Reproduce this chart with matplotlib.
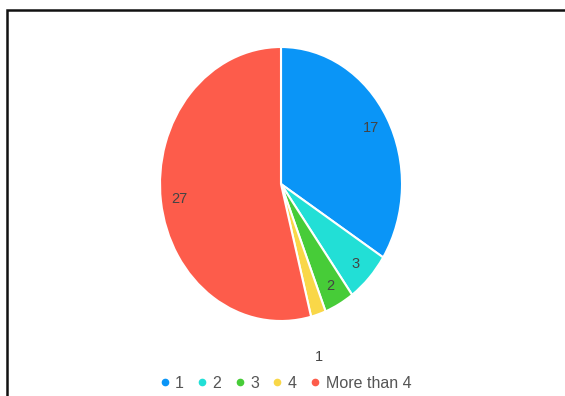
import matplotlib
matplotlib.use("Agg")
import matplotlib.pyplot as plt
import numpy as np
from matplotlib.lines import Line2D
from matplotlib.patches import Rectangle

categories = ["1", "2", "3", "4", "More than 4"]
counts = [17, 3, 2, 1, 27]
colors = ["#0a95f7", "#22dfd6", "#47cc38", "#f9d748", "#fd5c4b"]

plt.rcParams["font.family"] = ["Liberation Sans", "DejaVu Sans"]

W, H = 565, 396
fig = plt.figure(figsize=(W / 100, H / 100), dpi=100)
fig.patch.set_facecolor("white")

# outer frame (open on right and bottom)
fig.patches.append(Rectangle((7 / W, -0.2), 1.2, 1 - 10 / H + 0.2,
                             transform=fig.transFigure, fill=False,
                             edgecolor="#111111", linewidth=1.8))

cx, cy, rx, ry = 281, 184, 121, 137
ax = fig.add_axes([(cx - rx) / W, (H - cy - ry) / H, 2 * rx / W, 2 * ry / H])

wedges, _ = ax.pie(counts, colors=colors, startangle=90, counterclock=False,
                   radius=1.0, wedgeprops=dict(edgecolor="white", linewidth=1.5))
ax.set_aspect("auto")
ax.set_xlim(-1, 1)
ax.set_ylim(-1, 1)
ax.axis("off")

total = sum(counts)
cum = 0
for v in counts:
    mid = 90 - (cum + v / 2) / total * 360
    cum += v
    if v / total > 0.03:
        r = 0.85
    else:
        r = 1.3
        mid -= 4
    x = r * np.cos(np.radians(mid))
    y = r * np.sin(np.radians(mid))
    ax.text(x, y, str(v), ha="center", va="center", fontsize=10.5, color="#444444")

handles = [Line2D([], [], marker="o", linestyle="", markersize=4.5,
                  markerfacecolor=c, markeredgecolor=c) for c in colors]
fig.legend(handles, categories, loc="center", ncol=5,
           bbox_to_anchor=(286 / W, 1 - 383 / H), frameon=False,
           fontsize=11.5, handlelength=0.5, handletextpad=0.4,
           columnspacing=0.9, labelcolor="#555555")

fig.savefig("out.png", dpi=100)
